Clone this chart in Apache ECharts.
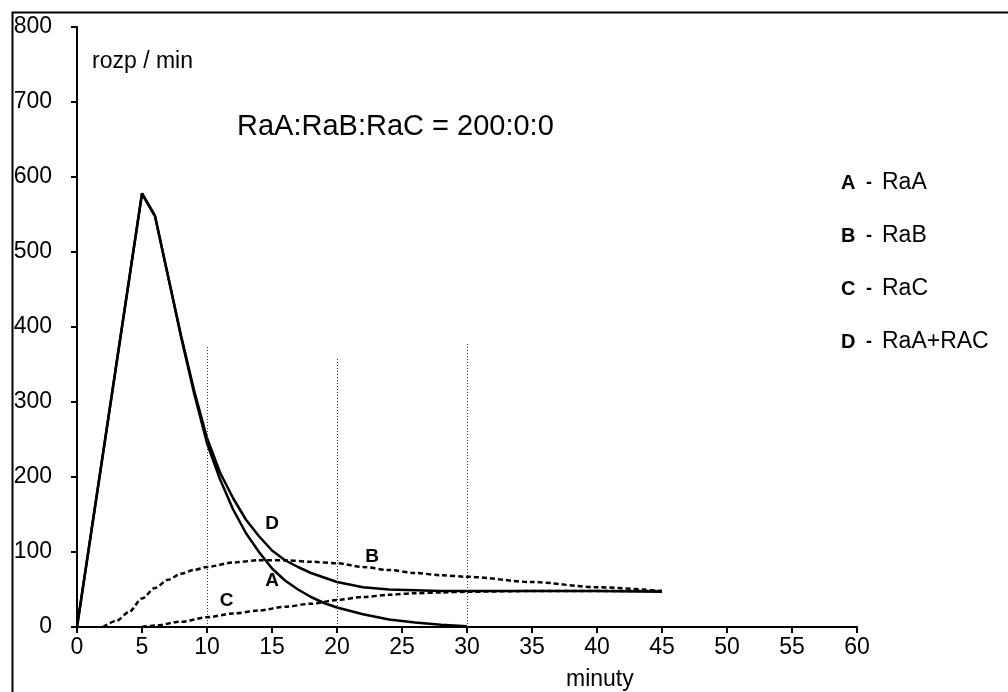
<!DOCTYPE html>
<html>
<head>
<meta charset="utf-8">
<script src="https://cdn.jsdelivr.net/npm/echarts@6/dist/echarts.min.js"></script>
<style>
  html, body { margin: 0; padding: 0; background: #fff; }
  #chart { width: 1008px; height: 692px; }
</style>
</head>
<body>
<div id="chart"></div>
<script>
// data (minutes, rozp/min)
var timeA = [0, 5, 6, 7, 8, 9, 10, 11, 12, 13, 14, 15, 16, 17, 18, 19, 20, 22, 24, 26, 28, 30];
var valA  = [0, 578, 548, 468, 387, 312, 245, 197, 157, 125, 100, 78, 62, 50, 40, 32, 26, 17, 10, 6, 3, 1];

var timeB = [2, 3, 4, 5, 6, 7, 8, 9, 10, 12, 14, 16, 18, 20, 22, 24, 26, 28, 30, 35, 40, 45];
var valB  = [0, 8, 20, 38, 52, 63, 71, 76, 80, 86, 89, 89, 87, 85, 80, 76, 72, 69, 67, 60, 53, 48];

var timeC = [5, 6, 8, 10, 12, 14, 16, 18, 20, 22, 24, 26, 28, 30, 35, 40, 45];
var valC  = [0, 2, 7, 13, 18, 22, 27, 31, 36, 40, 43, 45, 46, 47, 48, 48, 48];

var timeD = [0, 5, 6, 7, 8, 9, 10, 11, 12, 13, 14, 15, 16, 17, 18, 19, 20, 22, 24, 26, 28, 30, 35, 40, 45];
var valD  = [0, 578, 548, 468, 389, 316, 252, 206, 172, 143, 121, 102, 89, 80, 72, 66, 60, 53, 50, 49, 48, 48, 48, 48, 47];

// curve letters placed next to the curves (data coords)
var curveTag  = ['D', 'A', 'B', 'C'];
var curveTagX = [15, 15, 22.7, 11.5];
var curveTagY = [138, 62, 94, 35];

// dotted guide lines
var guideX   = [10, 20, 30];
var guideTop = [375, 358, 378];

var legendKey  = ['A', 'B', 'C', 'D'];
var legendName = ['RaA', 'RaB', 'RaC', 'RaA+RAC'];

var xTicks = { min: 0, max: 60, step: 5 };
var yTicks = { min: 0, max: 800, step: 100 };

function pairs(xs, ys) {
  return xs.map(function (x, i) { return [x, ys[i]]; });
}

var font = "'Liberation Sans', Arial, sans-serif";

var chart = echarts.init(document.getElementById('chart'));

var guides = guideX.map(function (x, i) {
  return [{ coord: [x, 0] }, { coord: [x, guideTop[i]] }];
});

var legendText = legendKey.map(function (k, i) {
  return {
    type: 'text',
    x: 841,
    y: 183 + i * 53,
    style: {
      text: '{k|' + k + '}{d|-}{n|' + legendName[i] + '}',
      verticalAlign: 'middle',
      rich: {
        k: { fontFamily: font, fontWeight: 'bold', fontSize: 20, fill: '#000', width: 15 },
        d: { fontFamily: font, fontWeight: 'bold', fontSize: 18, fill: '#000', width: 26, align: 'center' },
        n: { fontFamily: font, fontSize: 23, fill: '#000' }
      }
    }
  };
});

var option = {
  animation: false,
  backgroundColor: '#fff',
  grid: { left: 77, right: 151, top: 27, bottom: 65 },
  xAxis: {
    type: 'value',
    min: xTicks.min, max: xTicks.max, interval: xTicks.step,
    axisLine: { lineStyle: { color: '#000', width: 2 } },
    axisTick: { length: 6, lineStyle: { color: '#000', width: 2 } },
    axisLabel: { color: '#000', fontSize: 23, fontFamily: font, margin: 9 },
    splitLine: { show: false }
  },
  yAxis: {
    type: 'value',
    min: yTicks.min, max: yTicks.max, interval: yTicks.step,
    axisLine: { show: true, lineStyle: { color: '#000', width: 2 } },
    axisTick: { show: true, length: 6, lineStyle: { color: '#000', width: 2 } },
    axisLabel: { color: '#000', fontSize: 23, fontFamily: font, margin: 25 },
    splitLine: { show: false }
  },
  graphic: [
    { type: 'rect', left: 10, top: 10, shape: { width: 1020, height: 700 },
      style: { fill: 'none', stroke: '#000', lineWidth: 2 } },
    { type: 'text', x: 92, y: 62,
      style: { text: 'rozp / min', fontFamily: font, fontSize: 23, fill: '#000', verticalAlign: 'middle' } },
    { type: 'text', x: 237, y: 127,
      style: { text: 'RaA:RaB:RaC = 200:0:0', fontFamily: font, fontSize: 29, fill: '#000', verticalAlign: 'middle' } },
    { type: 'text', x: 566, y: 680,
      style: { text: 'minuty', fontFamily: font, fontSize: 23, fill: '#000', verticalAlign: 'middle' } }
  ].concat(legendText),
  series: [
    {
      name: 'A', type: 'line', data: pairs(timeA, valA), showSymbol: false,
      lineStyle: { color: '#000', width: 2.5 }, z: 3
    },
    {
      name: 'B', type: 'line', data: pairs(timeB, valB), showSymbol: false,
      smooth: 0.3, smoothMonotone: 'x',
      lineStyle: { color: '#000', width: 2.5, type: [5, 3] }
    },
    {
      name: 'C', type: 'line', data: pairs(timeC, valC), showSymbol: false,
      smooth: 0.3, smoothMonotone: 'x',
      lineStyle: { color: '#000', width: 2.5, type: [5, 3] }
    },
    {
      name: 'D', type: 'line', data: pairs(timeD, valD), showSymbol: false,
      lineStyle: { color: '#000', width: 2.5 }, z: 3,
      markLine: {
        silent: true, symbol: 'none', label: { show: false },
        lineStyle: { color: '#333', width: 1, type: [1, 2] },
        data: guides
      }
    },
    {
      name: 'tags', type: 'scatter', symbolSize: 0,
      itemStyle: { color: '#000', opacity: 1 },
      data: curveTag.map(function (t, i) { return [curveTagX[i], curveTagY[i], t]; }),
      label: {
        show: true, position: 'inside', color: '#000',
        textBorderWidth: 0,
        fontFamily: font, fontWeight: 'bold', fontSize: 19,
        formatter: function (p) { return p.data[2]; }
      }
    }
  ]
};

chart.setOption(option);
</script>
</body>
</html>
